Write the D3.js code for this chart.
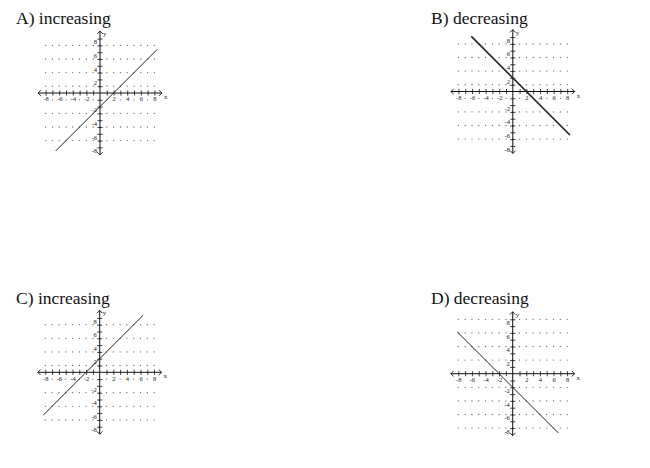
<!DOCTYPE html>
<html>
<head>
<meta charset="utf-8">
<script src="https://cdn.jsdelivr.net/npm/d3@7/dist/d3.min.js"></script>
<style>
  body { margin: 0; background: #fff; }
  svg { display: block; }
  .title { font-family: "Liberation Serif", serif; font-size: 17.5px; fill: #111; }
  .tick text { font-family: "Liberation Serif", serif; font-size: 6.5px; fill: #222; }
  .tick line { stroke: #111; stroke-width: 0.8; }
  .axname { font-family: "Liberation Serif", serif; font-size: 7px; fill: #333; }
</style>
</head>
<body>
<div id="chart"></div>
<script>
// panel data
var titles = ["A) increasing", "B) decreasing", "C) increasing", "D) decreasing"];
// each graphed line, start and end point in graph units
var lineStart = [[-6.5, -8.5], [-6.1, 8.1], [-8.3, -6.3], [-8.1, 6.1]];
var lineEnd = [[8.4, 6.4], [8.4, -6.4], [6.4, 8.4], [6.7, -8.7]];
var tickValues = [-8, -7, -6, -5, -4, -3, -2, -1, 0, 1, 2, 3, 4, 5, 6, 7, 8];
var labelValues = [-8, -6, -4, -2, 2, 4, 6, 8];
var dotCols = [-8, -7, -6, -5, -4, -3, -2, -1, 0, 1, 2, 3, 4, 5, 6, 7, 8];
var dotColsOdd = [-7, -5, -3, -1, 1, 3, 5, 7];
var dotRowsOdd = [7, 5, 3, 1, -3, -5, -7];
var dotRowsEven = [8, 6, 4, 2, -2, -4, -6, -8];

var W = 650, H = 468;
var UNIT = 6.8, EXT = 9.1;

// layout of the four panels
var layout = [
  { tx: 16, ty: 23.5, ox: 100, oy: 93, rows: dotRowsOdd, labelRowDots: true, lw: 1 },
  { tx: 431, ty: 23.5, ox: 512.8, oy: 91.5, rows: dotRowsOdd, labelRowDots: true, lw: 1.6 },
  { tx: 16, ty: 303.5, ox: 99.7, oy: 372.3, rows: dotRowsOdd, labelRowDots: true, lw: 1 },
  { tx: 431, ty: 303.5, ox: 512.7, oy: 373.7, rows: dotRowsEven, labelRowDots: false, lw: 1 }
];

var svg = d3.select("#chart").append("svg")
  .attr("width", W)
  .attr("height", H);

layout.forEach(function(p, i) {
  var g = svg.append("g");

  g.append("text")
    .attr("class", "title")
    .attr("x", p.tx)
    .attr("y", p.ty)
    .text(titles[i]);

  var x = d3.scaleLinear().domain([-8, 8]).range([p.ox - 8 * UNIT, p.ox + 8 * UNIT]);
  var y = d3.scaleLinear().domain([-8, 8]).range([p.oy + 8 * UNIT, p.oy - 8 * UNIT]);

  // dotted grid
  var dots = [];
  p.rows.forEach(function(r) {
    dotCols.forEach(function(c) { dots.push([c, r]); });
  });
  if (p.labelRowDots) {
    dotColsOdd.forEach(function(c) { dots.push([c, -1]); });
  }
  g.selectAll("circle.dot")
    .data(dots)
    .enter().append("circle")
    .attr("class", "dot")
    .attr("cx", function(d) { return x(d[0]); })
    .attr("cy", function(d) { return y(d[1]); })
    .attr("r", 0.65)
    .attr("fill", "#666");

  // main axis lines
  g.append("line")
    .attr("x1", x(-EXT)).attr("x2", x(EXT))
    .attr("y1", y(0)).attr("y2", y(0))
    .attr("stroke", "#111").attr("stroke-width", 1);
  g.append("line")
    .attr("x1", x(0)).attr("x2", x(0))
    .attr("y1", y(-EXT)).attr("y2", y(EXT))
    .attr("stroke", "#111").attr("stroke-width", 1);

  // arrow heads
  var a = 2.8;
  var heads = [
    [[x(-EXT) + a, y(0) - a], [x(-EXT), y(0)], [x(-EXT) + a, y(0) + a]],
    [[x(EXT) - a, y(0) - a], [x(EXT), y(0)], [x(EXT) - a, y(0) + a]],
    [[x(0) - a, y(EXT) + a], [x(0), y(EXT)], [x(0) + a, y(EXT) + a]],
    [[x(0) - a, y(-EXT) - a], [x(0), y(-EXT)], [x(0) + a, y(-EXT) - a]]
  ];
  g.selectAll("path.head")
    .data(heads)
    .enter().append("path")
    .attr("class", "head")
    .attr("d", d3.line())
    .attr("fill", "none")
    .attr("stroke", "#111")
    .attr("stroke-width", 0.9);

  var fmt = function(d) { return labelValues.indexOf(d) >= 0 ? d : ""; };

  // x ticks, crossing the axis
  var xa = g.append("g")
    .attr("transform", "translate(0," + (y(0) - 2.6) + ")")
    .call(d3.axisBottom(x).tickValues(tickValues).tickSize(5.2).tickPadding(1).tickFormat(fmt));
  xa.select(".domain").remove();
  xa.selectAll(".tick").filter(function(d) { return d === 0; }).remove();
  xa.selectAll("text").attr("font-size", null).attr("font-family", null);

  // y ticks, crossing the axis
  var ya = g.append("g")
    .attr("transform", "translate(" + (x(0) + 2.6) + ",0)")
    .call(d3.axisLeft(y).tickValues(tickValues).tickSize(5.2).tickPadding(0.3).tickFormat(fmt));
  ya.select(".domain").remove();
  ya.selectAll(".tick").filter(function(d) { return d === 0; }).remove();
  ya.selectAll("text").attr("dy", "0.8em").attr("font-size", null).attr("font-family", null);

  g.append("text").attr("class", "axname")
    .attr("x", x(EXT) + 2).attr("y", y(0) + 6)
    .text("x");
  g.append("text").attr("class", "axname")
    .attr("x", x(0) + 3).attr("y", y(EXT) + 5)
    .text("y");

  // the graphed line
  g.append("path")
    .datum([lineStart[i], lineEnd[i]])
    .attr("d", d3.line().x(function(d) { return x(d[0]); }).y(function(d) { return y(d[1]); }))
    .attr("stroke", "#222")
    .attr("stroke-width", p.lw)
    .attr("fill", "none");
});
</script>
</body>
</html>
